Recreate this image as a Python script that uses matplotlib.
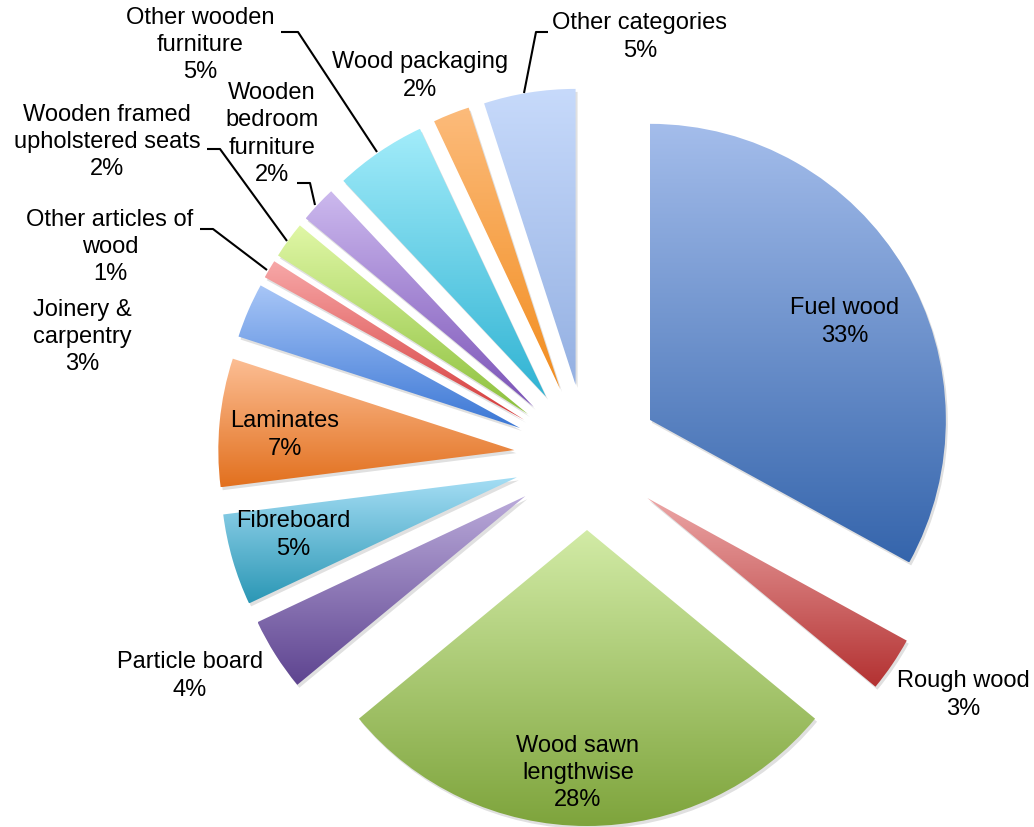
import numpy as np
import matplotlib
matplotlib.use("Agg")
import matplotlib.pyplot as plt
from matplotlib.colors import LinearSegmentedColormap
from matplotlib.patches import PathPatch
from matplotlib.transforms import Affine2D

categories = ["Fuel wood", "Rough wood", "Wood sawn\nlengthwise", "Particle board",
              "Fibreboard", "Laminates", "Joinery &\ncarpentry", "Other articles of\nwood",
              "Wooden framed\nupholstered seats", "Wooden\nbedroom\nfurniture",
              "Other wooden\nfurniture", "Wood packaging", "Other categories"]
shares = [33, 3, 28, 4, 5, 7, 3, 1, 2, 2, 5, 2, 5]

top_colors = ["#A4BDEB", "#ECA6A6", "#D2EBA6", "#BAAADA", "#A6DEF5", "#FCBE94", "#A8C6F7",
              "#F7A8A8", "#E0F7A6", "#CCB9EE", "#A2ECFA", "#FCBB7B", "#C7DAFB"]
bot_colors = ["#3565AC", "#B33131", "#7EA43C", "#5E4490", "#2B97B5", "#E2701E", "#3B77D5",
              "#D53A3A", "#8CC03C", "#7B53B7", "#30B3D3", "#F28D1F", "#94B0E2"]

# label anchor positions (pixel coords, y from top)
label_pos = [(845, 322), (963, 695), (578, 773), (190, 676), (293, 535), (285, 435),
             (82, 337), (110, 247), (107, 142), (272, 134), (200, 45), (420, 76), (640, 37)]

# leader lines (pixel coords)
leaders = {
    7: [(267, 270), (213, 229), (200, 229)],
    8: [(287, 241), (220, 149), (207, 149)],
    9: [(315, 205), (310, 183), (297, 183)],
    10: [(377, 152), (298, 32), (281, 32)],
    12: [(524, 93), (536, 32), (548, 32)],
}

W, H = 1034, 827
fig = plt.figure(figsize=(W / 100, H / 100), dpi=100)
ax = fig.add_axes([0, 0, 1, 1])

wedges, _ = ax.pie(shares, startangle=90, counterclock=False,
                   explode=[73] * len(shares), radius=296, center=(587, H - 457),
                   frame=True)
ax.set_xlim(0, W)
ax.set_ylim(0, H)
ax.set_aspect("equal")
ax.axis("off")

grad = np.linspace(0, 1, 256).reshape(-1, 1)
for i, w in enumerate(wedges):
    path = w.get_path()
    tpath = w.get_transform().transform_path(path)
    dpath = ax.transData.inverted().transform_path(tpath)
    ext = dpath.get_extents()
    sh = PathPatch(dpath, facecolor="black", edgecolor="none", alpha=0.12,
                   transform=Affine2D().translate(2, -3) + ax.transData, zorder=1)
    ax.add_patch(sh)
    w.set_facecolor("none")
    w.set_edgecolor("none")
    w.set_zorder(2)
    cmap = LinearSegmentedColormap.from_list("g%d" % i, [bot_colors[i], top_colors[i]])
    im = ax.imshow(grad, cmap=cmap, origin="lower", aspect="auto",
                   extent=(ext.x0, ext.x1, ext.y0, ext.y1), zorder=2, interpolation="bilinear")
    im.set_clip_path(w)

ax.set_xlim(0, W)
ax.set_ylim(0, H)

for i, (cat, v) in enumerate(zip(categories, shares)):
    x, y = label_pos[i]
    ax.text(x, H - y, f"{cat}\n{v}%", ha="center", va="center", fontsize=17,
            family="Liberation Sans", color="black", linespacing=1.3, zorder=5)

for i, pts in leaders.items():
    xs = [p[0] for p in pts]
    ys = [H - p[1] for p in pts]
    ax.plot(xs, ys, color="black", lw=1.5, zorder=4, solid_capstyle="butt")

fig.savefig("out.png", dpi=100)
